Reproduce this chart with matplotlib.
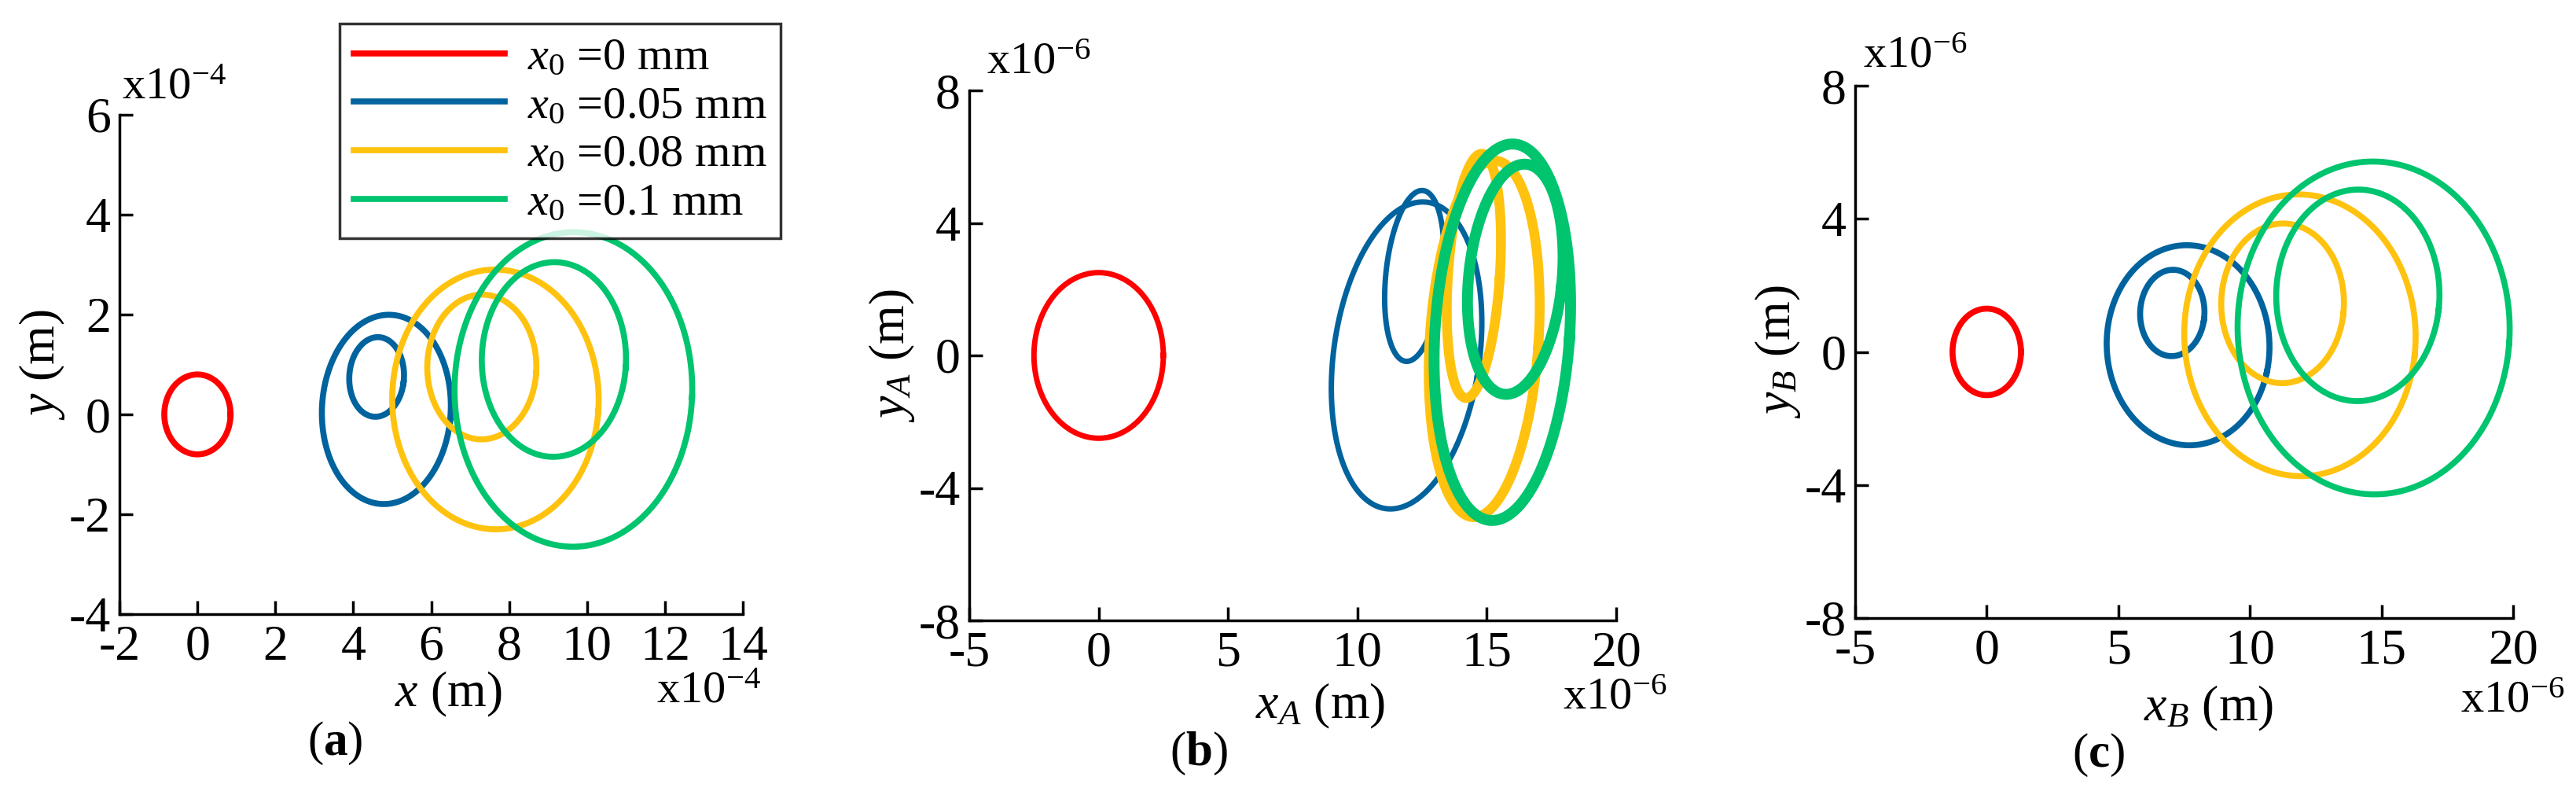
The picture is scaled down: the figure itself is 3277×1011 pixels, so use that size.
import numpy as np
import matplotlib
matplotlib.use('Agg')
import matplotlib.pyplot as plt

plt.rcParams['font.family'] = ['Liberation Serif', 'DejaVu Serif']
plt.rcParams['mathtext.fontset'] = 'custom'
plt.rcParams['mathtext.it'] = 'Liberation Serif:italic'
plt.rcParams['mathtext.rm'] = 'Liberation Serif'
plt.rcParams['mathtext.bf'] = 'Liberation Serif:bold'
plt.rcParams['axes.unicode_minus'] = False

labels = ['$x_0$ =0 mm', '$x_0$ =0.05 mm', '$x_0$ =0.08 mm', '$x_0$ =0.1 mm']
colors = ['#ff0000', '#00639e', '#ffc20e', '#00c46e']

# loops per series: (cx, cy, rx, ry, tilt deg)
loops_a = [
    [(0.0, 0.0, 0.85, 0.8, 0)],
    [(4.85, 0.1, 1.65, 1.9, -8), (4.6, 0.75, 0.7, 0.8, -10)],
    [(7.65, 0.3, 2.65, 2.6, -5), (7.3, 0.95, 1.4, 1.45, -5)],
    [(9.65, 0.5, 3.05, 3.15, -3), (9.15, 1.1, 1.85, 1.95, -5)],
]
loops_b = [
    [(0.0, 0.0, 2.5, 2.5, 0)],
    [(11.9, 0.0, 2.8, 4.7, -12), (12.2, 2.4, 1.1, 2.6, -8)],
    [(14.9, 0.5, 2.1, 5.4, -5), (14.5, 2.4, 1.0, 3.7, -5)],
    [(15.6, 0.7, 2.6, 5.7, -5), (16.1, 2.3, 1.8, 3.5, -8)],
]
loops_c = [
    [(0.0, 0.0, 1.3, 1.3, 0)],
    [(7.65, 0.2, 3.1, 3.0, -15), (7.05, 1.17, 1.22, 1.3, -10)],
    [(11.9, 0.5, 4.4, 4.23, -8), (11.24, 1.46, 2.33, 2.4, -8)],
    [(14.7, 0.72, 5.17, 5.0, -5), (14.1, 1.7, 3.1, 3.18, -8)],
]
widths_b = [5, 5, 9, 10]

fig = plt.figure(figsize=(32.77, 10.11), dpi=100)
W, H = 3277, 1011
def add_ax(l, r, t, b):
    return fig.add_axes([l / W, 1 - b / H, (r - l) / W, (b - t) / H])
def ftext(x, y, s, **kw):
    fig.text(x / W, 1 - y / H, s, **kw)

axes = [add_ax(152, 945, 146, 781), add_ax(1233, 2056, 115, 789), add_ax(2360, 3197, 109, 786)]
sets = [loops_a, loops_b, loops_c]
xlims = [(-2, 14), (-5, 20), (-5, 20)]
ylims = [(-4, 6), (-8, 8), (-8, 8)]
xticks = [np.arange(-2, 15, 2), np.arange(-5, 21, 5), np.arange(-5, 21, 5)]
yticks = [np.arange(-4, 7, 2), np.arange(-8, 9, 4), np.arange(-8, 9, 4)]
xlabels = ['$x$ (m)', '$x_A$ (m)', '$x_B$ (m)']
ylabels = ['$y$ (m)', '$y_A$ (m)', '$y_B$ (m)']
mults = ['x10$^{-4}$', 'x10$^{-6}$', 'x10$^{-6}$']
tags = [r'($\mathbf{a}$)', r'($\mathbf{b}$)', r'($\mathbf{c}$)']
# pixel anchors: xlabel centre, tag centre, x-multiplier right edge, y-multiplier left edge
xlab_pos = [(570, 883), (1680, 898), (2810, 901)]
tag_pos = [(426, 945), (1525, 958), (2670, 960)]
xmul_pos = [(968, 880), (2120, 888), (3262, 891)]
ymul_pos = [(155, 112), (1255, 79), (2370, 72)]

t = np.linspace(0, 2 * np.pi, 400)
for k, ax in enumerate(axes):
    for i, loops in enumerate(sets[k]):
        lw = widths_b[i] if k == 1 else 5.5
        for j, (cx, cy, rx, ry, ang) in enumerate(loops):
            a = np.deg2rad(ang)
            x = rx * np.cos(t)
            y = ry * np.sin(t)
            ax.plot(cx + x * np.cos(a) - y * np.sin(a), cy + x * np.sin(a) + y * np.cos(a),
                    color=colors[i], lw=lw, label=labels[i] if j == 0 else None)
    ax.set_xlim(*xlims[k])
    ax.set_ylim(*ylims[k])
    ax.set_xticks(xticks[k])
    ax.set_yticks(yticks[k])
    ax.spines['top'].set_visible(False)
    ax.spines['right'].set_visible(False)
    for s in ['left', 'bottom']:
        ax.spines[s].set_linewidth(2.5)
    ax.tick_params(direction='in', length=12, width=2.5, labelsize=46)
    ax.tick_params(axis='x', pad=10)
    ax.tick_params(axis='y', pad=8)
    ax.set_ylabel(ylabels[k], fontsize=46, labelpad=2)
    ftext(*xlab_pos[k], xlabels[k], fontsize=46, ha='center', va='center')
    ftext(*tag_pos[k], tags[k], fontsize=44, ha='center', va='center')
    ftext(*xmul_pos[k], mults[k], fontsize=42, ha='right', va='center')
    ftext(*ymul_pos[k], mults[k], fontsize=42, ha='left', va='center')

leg = axes[0].legend(loc='upper left', bbox_to_anchor=(432 / W, 1 - 30 / H), bbox_transform=fig.transFigure,
                     fontsize=42, frameon=True, fancybox=False, edgecolor='black', handlelength=3.3,
                     labelspacing=0.15, borderpad=0.3, handletextpad=0.5, borderaxespad=0)
leg.get_frame().set_linewidth(2.5)

fig.savefig('out.png', dpi=100)
